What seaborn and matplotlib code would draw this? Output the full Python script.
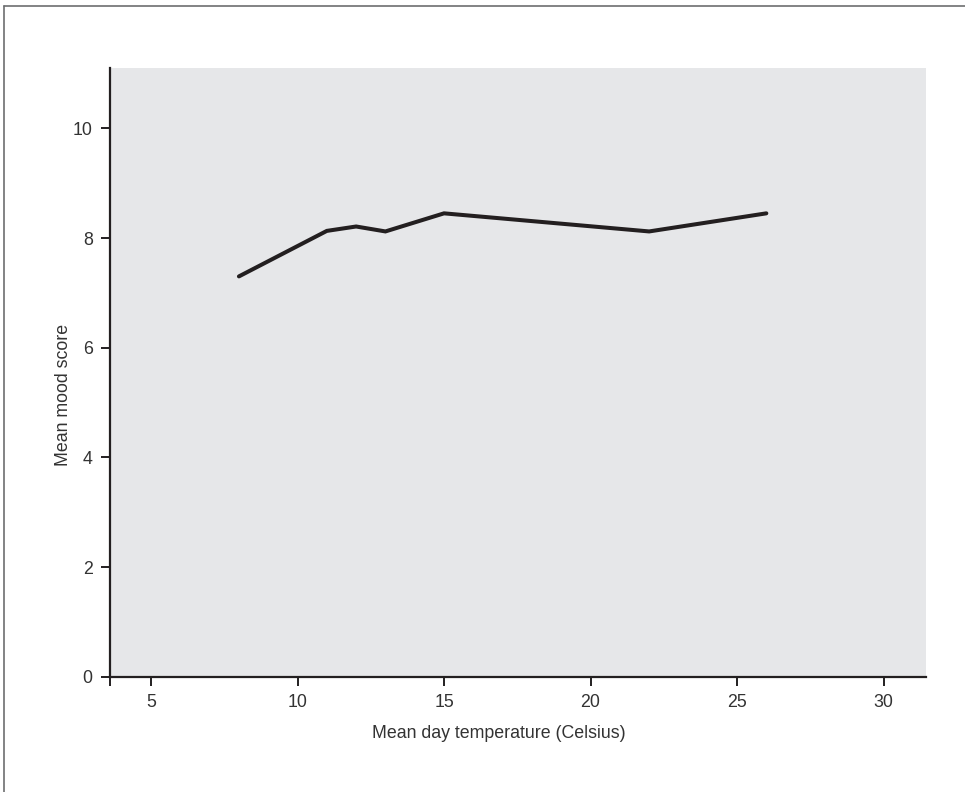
import matplotlib
matplotlib.use("Agg")
import matplotlib.pyplot as plt
from matplotlib.lines import Line2D
import seaborn as sns
import pandas as pd

temperature = [8, 11, 12, 13, 15, 22, 26]
mood = [7.3, 8.13, 8.21, 8.12, 8.45, 8.12, 8.45]
x_ticks = [5, 10, 15, 20, 25, 30]
y_ticks = [0, 2, 4, 6, 8, 10]
x_label = "Mean day temperature (Celsius)"
y_label = "Mean mood score"

df = pd.DataFrame({"temp": temperature, "mood": mood})

sns.set_style("white")
plt.rcParams["font.family"] = ["Liberation Sans", "DejaVu Sans"]

fig = plt.figure(figsize=(9.65, 7.92), dpi=100)
ax = fig.add_axes([0.114, 0.1456, 0.8456, 0.7685])
ax.set_facecolor("#e6e7e9")

sns.lineplot(data=df, x="temp", y="mood", ax=ax, color="#231f20",
             linewidth=2.9, solid_joinstyle="miter", solid_capstyle="round")

ax.set_xlim(3.6, 31.45)
ax.set_ylim(0, 11.1)
ax.set_xticks(x_ticks)
ax.set_yticks(y_ticks)
ax.set_xticks([3.6], minor=True)

for s in ["top", "right"]:
    ax.spines[s].set_visible(False)
for s in ["left", "bottom"]:
    ax.spines[s].set_color("#231f20")
    ax.spines[s].set_linewidth(1.6)

ax.tick_params(axis="both", which="both", direction="out", length=6.5, width=1.4,
               color="#231f20", labelsize=12.8, labelcolor="#333333", pad=6,
               bottom=True, left=True)

ax.set_xlabel(x_label, fontsize=12.8, color="#333333")
ax.set_ylabel(y_label, fontsize=12.8, color="#333333")
ax.xaxis.set_label_coords((499 - 110) / 816, -0.08)
ax.yaxis.set_label_coords(-0.046, 0.463)

# figure frame (top and left)
fig.add_artist(Line2D([4 / 965, 1], [1 - 6 / 792, 1 - 6 / 792], transform=fig.transFigure,
                      color="#6d6e70", linewidth=1.2))
fig.add_artist(Line2D([4 / 965, 4 / 965], [0, 1 - 6 / 792], transform=fig.transFigure,
                      color="#6d6e70", linewidth=1.2))

fig.savefig("out.png", dpi=100)
